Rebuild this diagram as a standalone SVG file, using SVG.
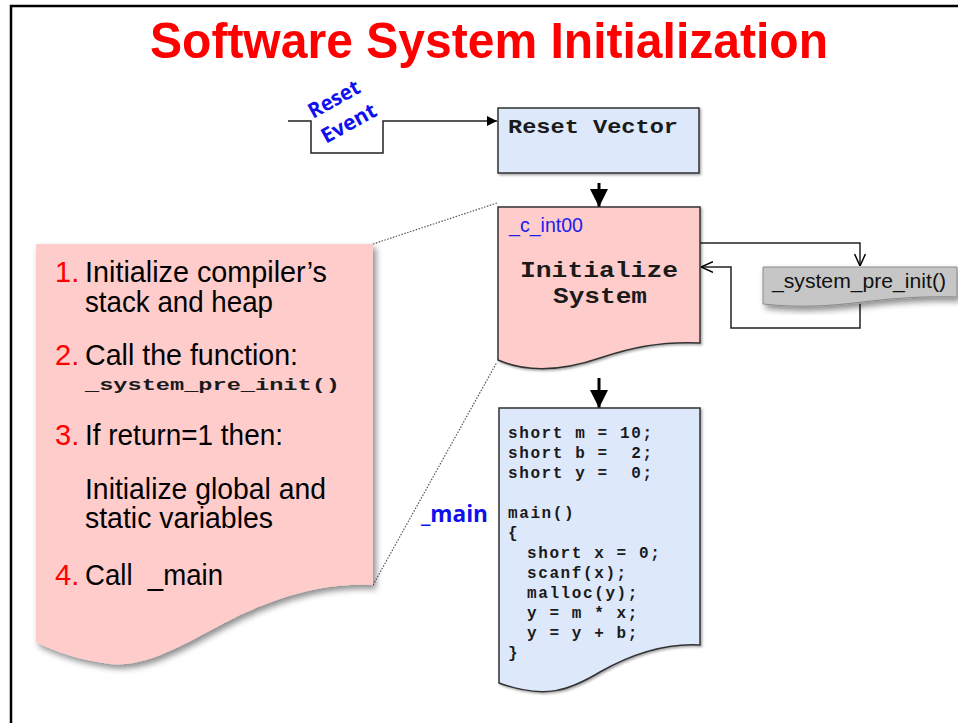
<svg xmlns="http://www.w3.org/2000/svg" width="958" height="723" viewBox="0 0 958 723">
<defs>
<filter id="sh" x="-10%" y="-10%" width="130%" height="130%">
<feDropShadow dx="3" dy="4" stdDeviation="3" flood-color="#000" flood-opacity="0.45"/>
</filter>
<filter id="sh2" x="-10%" y="-10%" width="130%" height="130%">
<feDropShadow dx="1.5" dy="1.5" stdDeviation="1" flood-color="#000" flood-opacity="0.35"/>
</filter>
<marker id="fa" viewBox="0 0 10 10" refX="10" refY="5" markerWidth="10" markerHeight="10" markerUnits="userSpaceOnUse" orient="auto">
<path d="M0,0 L10,5 L0,10 Z" fill="#000"/>
</marker>
<marker id="fab" viewBox="0 0 10 10" refX="10" refY="5" markerWidth="6" markerHeight="6" orient="auto">
<path d="M0,0 L10,5 L0,10 Z" fill="#000"/>
</marker>
<marker id="oa" viewBox="0 0 10 10" refX="10" refY="5" markerWidth="12" markerHeight="12" markerUnits="userSpaceOnUse" orient="auto">
<path d="M0,0.5 L10,5 L0,9.5" fill="none" stroke="#000" stroke-width="1.2"/>
</marker>
</defs>
<style>
.title{font-family:"Liberation Sans",Arial,sans-serif;font-weight:bold;font-size:50px;fill:#ff0000}
.mono{font-family:"Liberation Mono","Courier New",monospace;font-weight:bold;fill:#1a1a1a}
.lt{font-family:"Liberation Sans",Arial,sans-serif;font-size:29px;fill:#000}
.num{fill:#ff0000}
.blue{font-family:"Open Sans","Liberation Sans",sans-serif;font-weight:bold;fill:#1010ee}
.code{font-family:"Liberation Mono","Courier New",monospace;font-weight:bold;font-size:16px;fill:#1a1a1a;letter-spacing:1.6px;white-space:pre}
.box{stroke:#333;stroke-width:1.5}
.conn{fill:none;stroke:#222;stroke-width:1.5}
.dot{fill:none;stroke:#555;stroke-width:1.2;stroke-dasharray:1.5 1.5}
</style>
<rect x="0" y="0" width="958" height="723" fill="#fff"/>
<path d="M11,723 V6 H958" fill="none" stroke="#000" stroke-width="2.5"/>
<text class="title" x="489" y="58" text-anchor="middle" textLength="678" lengthAdjust="spacingAndGlyphs">Software System Initialization</text>

<g id="connectors">
<path class="conn" d="M288,121 H311 V153 H383 V121 H497" marker-end="url(#fa)"/>
<path d="M599,183 V207" fill="none" stroke="#000" stroke-width="3" marker-end="url(#fab)"/>
<path d="M599,378 V408" fill="none" stroke="#000" stroke-width="3" marker-end="url(#fab)"/>
<path class="conn" d="M700,243 H860 V266" marker-end="url(#oa)"/>
<path class="conn" d="M860,304 V328 H731 V267 H701" marker-end="url(#oa)"/>
<path class="dot" d="M373,244 L497,203"/>
<path class="dot" d="M373,585 L497,362"/>
</g>

<g id="reset-event">
<text class="blue" font-size="21" transform="translate(313,119) rotate(-29)" textLength="56" lengthAdjust="spacingAndGlyphs">Reset</text>
<text class="blue" font-size="21" transform="translate(326,144) rotate(-29)" textLength="60" lengthAdjust="spacingAndGlyphs">Event</text>
</g>

<g id="reset-vector">
<rect class="box" x="498" y="108" width="201" height="65" fill="#dde8fb" filter="url(#sh2)"/>
<text class="mono" x="508" y="133" font-size="21" textLength="170" lengthAdjust="spacingAndGlyphs">Reset Vector</text>
</g>

<g id="c-int00">
<path class="box" d="M498,207 H700 V343 C660,341 630,348 600,358 C565,370 530,374 498,360 Z" fill="#ffcccc" filter="url(#sh2)"/>
<text x="509" y="232" font-family="Liberation Sans,Arial,sans-serif" font-size="21" fill="#2020ee" textLength="74" lengthAdjust="spacingAndGlyphs">_c_int00</text>
<text class="mono" x="599" y="277" font-size="22" text-anchor="middle" textLength="158" lengthAdjust="spacingAndGlyphs">Initialize</text>
<text class="mono" x="600" y="303" font-size="22" text-anchor="middle" textLength="94" lengthAdjust="spacingAndGlyphs">System</text>
</g>

<g id="system-pre-init">
<path d="M763,267 H957 V297 C925,296 895,298 862,302 C830,306 800,308 763,304 Z" fill="#c6c6c6" stroke="#8a8a8a" stroke-width="1" filter="url(#sh)"/>
<text x="772" y="288" font-family="Liberation Sans,Arial,sans-serif" font-size="21" fill="#111" textLength="174" lengthAdjust="spacingAndGlyphs">_system_pre_init()</text>
</g>

<g id="steps">
<path d="M36,244 H373 V585 C330,583 290,592 240,615 C190,640 150,668 110,664 C80,660 55,652 36,642 Z" fill="#ffcccc" filter="url(#sh)"/>
<text class="lt" x="55" y="282"><tspan class="num">1.</tspan></text>
<text class="lt" x="85" y="282" textLength="242" lengthAdjust="spacingAndGlyphs">Initialize compiler’s</text>
<text class="lt" x="85" y="312" textLength="188" lengthAdjust="spacingAndGlyphs">stack and heap</text>
<text class="lt" x="55" y="365"><tspan class="num">2.</tspan></text>
<text class="lt" x="85" y="365" textLength="213" lengthAdjust="spacingAndGlyphs">Call the function:</text>
<text class="mono" x="85" y="390" font-size="17" textLength="255" lengthAdjust="spacingAndGlyphs">_system_pre_init()</text>
<text class="lt" x="55" y="445"><tspan class="num">3.</tspan></text>
<text class="lt" x="85" y="445" textLength="198" lengthAdjust="spacingAndGlyphs">If return=1 then:</text>
<text class="lt" x="85" y="499" textLength="241" lengthAdjust="spacingAndGlyphs">Initialize global and</text>
<text class="lt" x="85" y="528" textLength="188" lengthAdjust="spacingAndGlyphs">static variables</text>
<text class="lt" x="55" y="585"><tspan class="num">4.</tspan></text>
<text class="lt" x="85" y="585" textLength="138" lengthAdjust="spacingAndGlyphs" xml:space="preserve">Call  _main</text>
</g>

<g id="main-label">
<text class="blue" x="421" y="522" font-size="23" textLength="67" lengthAdjust="spacingAndGlyphs">_main</text>
</g>

<g id="main-code">
<path class="box" d="M499,408 H700 V645 C665,643 630,655 600,672 C570,690 545,700 499,683 Z" fill="#dde8fb" filter="url(#sh2)"/>
<text class="code" x="508" y="438" xml:space="preserve">short m = 10;</text>
<text class="code" x="508" y="458" xml:space="preserve">short b =  2;</text>
<text class="code" x="508" y="478" xml:space="preserve">short y =  0;</text>
<text class="code" x="508" y="518">main()</text>
<text class="code" x="508" y="538">{</text>
<text class="code" x="527" y="558" xml:space="preserve">short x = 0;</text>
<text class="code" x="527" y="578">scanf(x);</text>
<text class="code" x="527" y="598">malloc(y);</text>
<text class="code" x="527" y="618" xml:space="preserve">y = m * x;</text>
<text class="code" x="527" y="638" xml:space="preserve">y = y + b;</text>
<text class="code" x="508" y="658">}</text>
</g>
</svg>
